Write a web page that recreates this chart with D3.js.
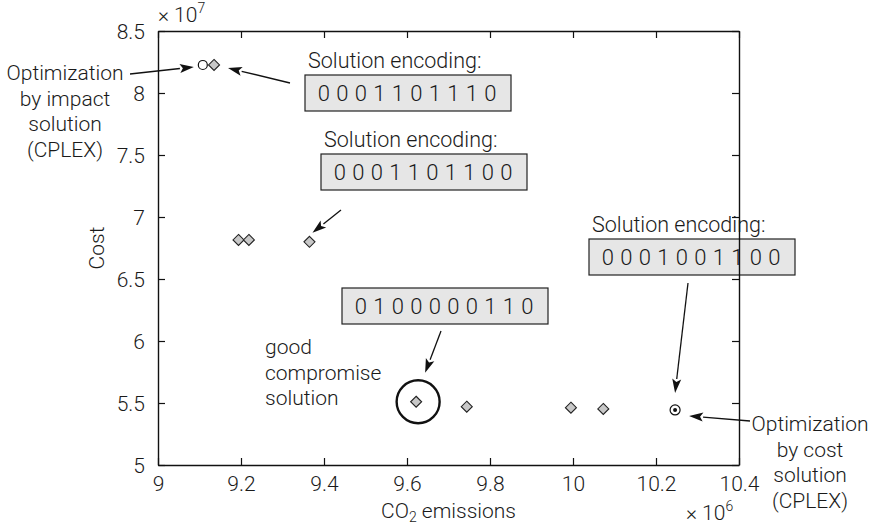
<!DOCTYPE html>
<html>
<head>
<meta charset="utf-8">
<script src="https://cdn.jsdelivr.net/npm/d3@7"></script>
<style>
  body { margin: 0; background: #fff; }
  text { font-family: Roboto, "Liberation Sans", Arial, sans-serif; font-weight: 300; fill: #1a1a1a; }
</style>
</head>
<body>
<div id="chart"></div>
<script>
// Heuristic solutions (diamonds), CO2 in 1e6, cost in 1e7
var gaCO2  = [9.135, 9.194, 9.219, 9.365, 9.622, 9.744, 9.995, 10.073];
var gaCost = [8.226, 6.815, 6.815, 6.800, 5.510, 5.470, 5.462, 5.452];

// CPLEX optima: by impact, by cost
var cplexCO2  = [9.108, 10.246];
var cplexCost = [8.226, 5.444];

var xTicks = [9, 9.2, 9.4, 9.6, 9.8, 10, 10.2, 10.4];
var yTicks = [5, 5.5, 6, 6.5, 7, 7.5, 8, 8.5];

var encodings = ["0001101110", "0001101100", "0100000110", "0001001100"];

// Set up the dimensions
var width = 876, height = 527;
var margin = { top: 31, right: 137, bottom: 62, left: 158 };

var svg = d3.select("#chart").append("svg")
    .attr("width", width)
    .attr("height", height);

var x = d3.scaleLinear().domain([9, 10.4]).range([margin.left, width - margin.right]);
var y = d3.scaleLinear().domain([5, 8.5]).range([height - margin.bottom, margin.top]);

// Arrow helper: line plus filled head
function arrow(x1, y1, x2, y2) {
    var a = Math.atan2(y2 - y1, x2 - x1), L = 14, w = 4.5;
    var bx = x2 - L * Math.cos(a), by = y2 - L * Math.sin(a);
    svg.append("line")
        .attr("x1", x1).attr("y1", y1).attr("x2", bx).attr("y2", by)
        .attr("stroke", "#111").attr("stroke-width", 1.3);
    svg.append("path")
        .attr("d", "M" + x2 + "," + y2 +
            "L" + (bx - w * Math.sin(a)) + "," + (by + w * Math.cos(a)) +
            "L" + (bx + 3 * Math.cos(a)) + "," + (by + 3 * Math.sin(a)) +
            "L" + (bx + w * Math.sin(a)) + "," + (by - w * Math.cos(a)) + "Z")
        .attr("fill", "#111");
}

// Encoding boxes
function encBox(bx, by, code, label) {
    var bw = 206, bh = 36;
    if (label) {
        svg.append("text").attr("x", bx + 3).attr("y", by - 7)
            .style("font-size", "21.5px").text(label);
    }
    svg.append("rect").attr("x", bx).attr("y", by).attr("width", bw).attr("height", bh)
        .attr("fill", "#e6e6e6").attr("stroke", "#222").attr("stroke-width", 1.2);
    var digits = code.split("");
    svg.selectAll(null).data(digits).enter().append("text")
        .attr("x", (d, i) => bx + bw / 2 - 1 + (i - 4.5) * 18.5)
        .attr("y", by + bh / 2 + 8)
        .attr("text-anchor", "middle")
        .style("font-size", "22px")
        .text(d => d);
}

encBox(305, 75, encodings[0], "Solution encoding:");
encBox(321, 154, encodings[1], "Solution encoding:");
encBox(342, 288, encodings[2], null);
encBox(589, 239, encodings[3], "Solution encoding:");

// Multi-line labels
function lines(xp, y0, arr, anchor) {
    svg.append("g").selectAll("text").data(arr).enter().append("text")
        .attr("x", xp).attr("y", (d, i) => y0 + i * 25.5)
        .attr("text-anchor", anchor)
        .style("font-size", "21px")
        .text(d => d);
}
lines(65, 80, ["Optimization", "by impact", "solution", "(CPLEX)"], "middle");
lines(810, 431, ["Optimization", "by cost", "solution", "(CPLEX)"], "middle");
lines(265, 354, ["good", "compromise", "solution"], "start");

// Arrows pointing at the marks
arrow(130, 74, x(cplexCO2[0]) - 9, y(cplexCost[0]) + 2);
arrow(290, 83, x(gaCO2[0]) + 14, y(gaCost[0]) + 3);
arrow(341, 210, x(gaCO2[3]) + 3, y(gaCost[3]) - 9);
arrow(441, 331, x(gaCO2[4]) + 9, y(gaCost[4]) - 29);
arrow(688, 283, x(cplexCO2[1]), y(cplexCost[1]) - 17);
arrow(750, 421, x(cplexCO2[1]) + 14, y(cplexCost[1]) + 6);

// Big circle around the compromise solution
svg.append("circle")
    .attr("cx", x(gaCO2[4]) + 2).attr("cy", y(gaCost[4]))
    .attr("r", 21.5)
    .attr("fill", "none").attr("stroke", "#111").attr("stroke-width", 2.4);

// Diamonds
svg.selectAll(".ga")
    .data(gaCO2.map((d, i) => [d, gaCost[i]]))
    .enter().append("path")
    .attr("class", "ga")
    .attr("d", d => {
        var cx = x(d[0]), cy = y(d[1]), r = 5.5;
        return "M" + cx + "," + (cy - r) + "L" + (cx + r) + "," + cy +
            "L" + cx + "," + (cy + r) + "L" + (cx - r) + "," + cy + "Z";
    })
    .attr("fill", "#c8c8c8").attr("stroke", "#222").attr("stroke-width", 1.1);

// CPLEX points: open circle, circle with dot
svg.append("circle")
    .attr("cx", x(cplexCO2[0])).attr("cy", y(cplexCost[0])).attr("r", 4.5)
    .attr("fill", "#fff").attr("stroke", "#111").attr("stroke-width", 1.2);
svg.append("circle")
    .attr("cx", x(cplexCO2[1])).attr("cy", y(cplexCost[1])).attr("r", 5)
    .attr("fill", "#fff").attr("stroke", "#111").attr("stroke-width", 1.2);
svg.append("circle")
    .attr("cx", x(cplexCO2[1])).attr("cy", y(cplexCost[1])).attr("r", 2)
    .attr("fill", "#111");

// Axes (drawn on top so the frame crosses the boxes)
var fmt = d => String(d);
var gx = svg.append("g").attr("transform", `translate(0,${y(5)})`)
    .call(d3.axisBottom(x).tickValues(xTicks).tickFormat(fmt).tickSizeInner(-7).tickSizeOuter(0).tickPadding(14));
var gxt = svg.append("g").attr("transform", `translate(0,${y(8.5)})`)
    .call(d3.axisTop(x).tickValues(xTicks).tickFormat("").tickSizeInner(-7).tickSizeOuter(0));
var gy = svg.append("g").attr("transform", `translate(${x(9)},0)`)
    .call(d3.axisLeft(y).tickValues(yTicks).tickFormat(fmt).tickSizeInner(-7).tickSizeOuter(0).tickPadding(13));
var gyr = svg.append("g").attr("transform", `translate(${x(10.4)},0)`)
    .call(d3.axisRight(y).tickValues(yTicks).tickFormat("").tickSizeInner(-7).tickSizeOuter(0));

svg.selectAll(".domain").attr("stroke", "#111").attr("stroke-width", 1.4);
svg.selectAll(".tick line").attr("stroke", "#111").attr("stroke-width", 1.2);
svg.selectAll(".tick text")
    .style("font-family", "Roboto, 'Liberation Sans', Arial, sans-serif")
    .style("font-weight", "300")
    .style("font-size", "21px")
    .attr("fill", "#1a1a1a");
gx.selectAll(".tick text").attr("dy", "0.55em");
gy.selectAll(".tick text").attr("dy", "0.36em");

// Axis titles
var xl = svg.append("text").attr("x", x(9.7)).attr("y", 518).attr("text-anchor", "middle")
    .style("font-size", "21px");
xl.append("tspan").text("CO");
xl.append("tspan").attr("dy", 4).style("font-size", "14px").text("2");
xl.append("tspan").attr("dy", -4).text(" emissions");

svg.append("text")
    .attr("transform", `translate(104,${(y(6.5) + y(7)) / 2}) rotate(-90)`)
    .attr("text-anchor", "middle")
    .style("font-size", "21px")
    .text("Cost");

// Exponent labels
var e6 = svg.append("text").attr("x", 686).attr("y", 520).style("font-size", "21px");
e6.append("tspan").text("× 10");
e6.append("tspan").attr("dy", -9).style("font-size", "14px").text("6");

var e7 = svg.append("text").attr("x", 158).attr("y", 22).style("font-size", "21px");
e7.append("tspan").text("× 10");
e7.append("tspan").attr("dy", -9).style("font-size", "14px").text("7");
</script>
</body>
</html>
